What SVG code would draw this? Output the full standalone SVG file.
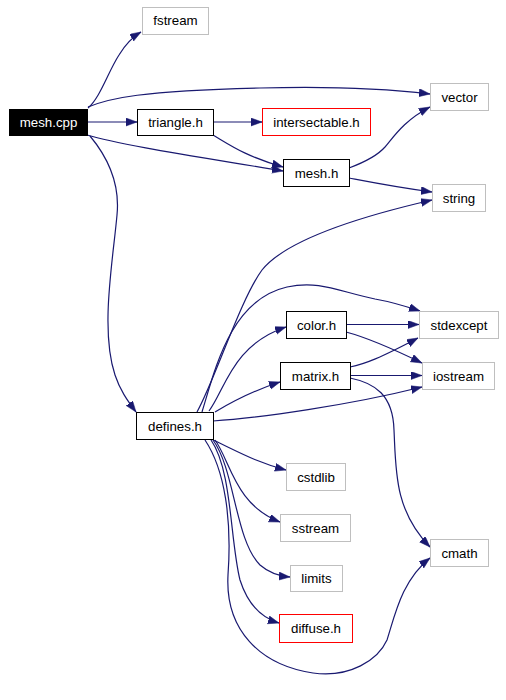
<svg xmlns="http://www.w3.org/2000/svg" width="506" height="700" viewBox="0 0 506 700">
<style>
.n rect{fill:#fff;stroke-width:1}
.doc rect{stroke:#000}
.sys rect{stroke:#bfbfbf}
.red rect{stroke:#ff0000}
.n text{font-family:"Liberation Sans",Arial,sans-serif;font-size:13.3px;text-anchor:middle;fill:#000}
#edges path{fill:none;stroke:#191970;stroke-width:1.2;marker-end:url(#arr)}
</style>
<defs>
<marker id="arr" markerUnits="userSpaceOnUse" markerWidth="12" markerHeight="9" refX="11" refY="4" orient="auto">
<path d="M0,0 L11,4 L0,8 z" fill="#191970" stroke="#191970" stroke-width="0.5"/>
</marker>
</defs>
<rect width="506" height="700" fill="#fff"/>
<g id="edges">
<path d="M88,108 C100,98 108,72 119,55 C125,45 131,38 141,32"/>
<path d="M88,107 C110,98 140,91 260,88 C330,86 380,88 430,94"/>
<path d="M87,122 L137,122"/>
<path d="M87,135 C120,145 200,157 283,171"/>
<path d="M213,122 L262,122"/>
<path d="M213,135 C230,145 245,156 283,167"/>
<path d="M349,168 C365,162 378,155 385,147 C395,135 405,120 430,107"/>
<path d="M349,178 C370,182 395,187 432,192"/>
<path d="M197,412 C215,380 240,300 262,270 C290,235 380,212 432,200"/>
<path d="M202,412 C215,370 230,300 287,287 C320,280 340,292 375,299 C392,302 405,306 420,311"/>
<path d="M209,411 C225,390 232,345 286,327"/>
<path d="M215,412 C235,400 255,390 280,382"/>
<path d="M213,421 C260,418 350,405 422,387"/>
<path d="M346,324.5 L419,324.5"/>
<path d="M346,332 C365,337 385,345 422,363"/>
<path d="M350,367 C365,364 380,358 418,338"/>
<path d="M350,375.5 L422,375.5"/>
<path d="M350,378 C375,383 393,395 394,430 C396,470 394,510 430,547"/>
<path d="M213,440 C235,450 255,462 286,470"/>
<path d="M215,440 C230,460 235,505 280,522"/>
<path d="M213,440 C235,470 235,540 260,565 C268,572 278,576 290,577"/>
<path d="M211,440 C232,470 230,540 240,580 C248,605 262,618 279,623"/>
<path d="M205,440 C225,470 232,520 228,575 C225,630 260,665 313,673 C350,678 378,660 387,640 C395,615 402,580 430,558"/>
<path d="M90,136 C110,160 120,185 117,215 C113,260 100,330 115,375 C120,390 127,400 136,412"/>
</g>
<g id="mesh_cpp" class="n doc"><rect x="9.5" y="109.5" width="78" height="26" style="fill:#000;stroke:#000"/><text x="48.5" y="127" style="fill:#fff">mesh.cpp</text></g>
<g id="fstream" class="n sys"><rect x="142.5" y="7.5" width="66" height="27"/><text x="175.5" y="25">fstream</text></g>
<g id="triangle_h" class="n doc"><rect x="137.5" y="109.5" width="76" height="26"/><text x="175.5" y="127">triangle.h</text></g>
<g id="vector" class="n sys"><rect x="430.5" y="83.5" width="58" height="27"/><text x="459.5" y="101.5">vector</text></g>
<g id="intersectable_h" class="n red"><rect x="262.5" y="108.5" width="108" height="27"/><text x="316.5" y="126.5">intersectable.h</text></g>
<g id="mesh_h" class="n doc"><rect x="283.5" y="159.5" width="66" height="27"/><text x="316.5" y="177.5">mesh.h</text></g>
<g id="string" class="n sys"><rect x="432.5" y="184.5" width="53" height="27"/><text x="459" y="202.5">string</text></g>
<g id="color_h" class="n doc"><rect x="286.5" y="311.5" width="60" height="27"/><text x="316.5" y="329.5">color.h</text></g>
<g id="stdexcept" class="n sys"><rect x="419.5" y="311.5" width="79" height="27"/><text x="459" y="329.5">stdexcept</text></g>
<g id="matrix_h" class="n doc"><rect x="280.5" y="362.5" width="70" height="27"/><text x="315.5" y="380.5">matrix.h</text></g>
<g id="iostream" class="n sys"><rect x="422.5" y="362.5" width="72" height="27"/><text x="458.5" y="380.5">iostream</text></g>
<g id="defines_h" class="n doc"><rect x="136.5" y="412.5" width="77" height="27"/><text x="175" y="430.5">defines.h</text></g>
<g id="cstdlib" class="n sys"><rect x="286.5" y="463.5" width="59" height="27"/><text x="316" y="481.5">cstdlib</text></g>
<g id="sstream" class="n sys"><rect x="280.5" y="514.5" width="70" height="27"/><text x="315.5" y="532.5">sstream</text></g>
<g id="limits" class="n sys"><rect x="290.5" y="565.5" width="52" height="26"/><text x="316.5" y="583">limits</text></g>
<g id="diffuse_h" class="n red"><rect x="279.5" y="614.5" width="73" height="28"/><text x="316" y="633">diffuse.h</text></g>
<g id="cmath" class="n sys"><rect x="430.5" y="539.5" width="58" height="27"/><text x="459.5" y="557.5">cmath</text></g>
</svg>
